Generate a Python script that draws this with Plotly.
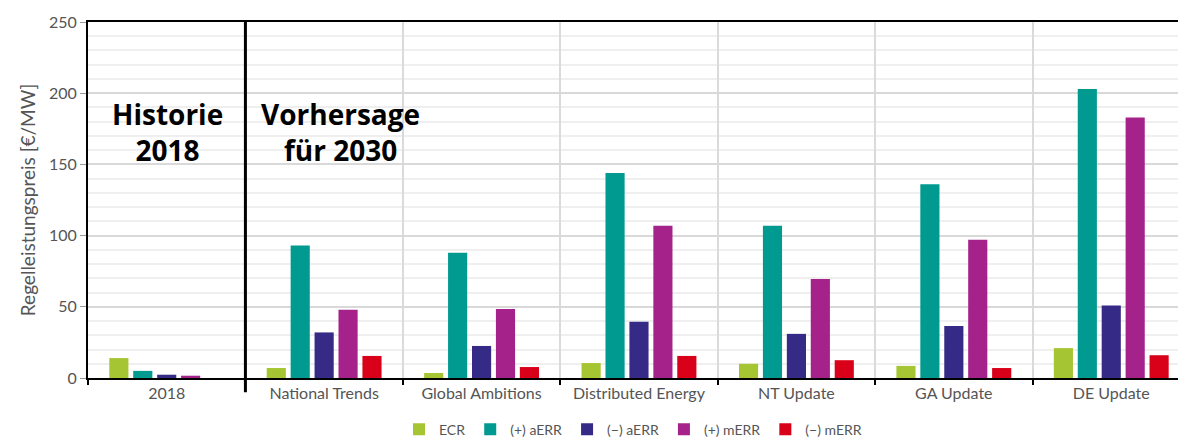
import plotly.graph_objects as go

# Szenarien (Kategorien der x-Achse)
categories = ["2018", "National Trends", "Global Ambitions", "Distributed Energy",
              "NT Update", "GA Update", "DE Update"]

# Regelleistungspreise in €/MW je Produkt
ecr = [14, 7, 3.5, 10.5, 10, 8.5, 21]
afrr_pos = [5, 93, 88, 144, 107, 136, 203]
afrr_neg = [2.3, 32, 22.5, 39.5, 31, 36.5, 51]
mfrr_pos = [1.6, 48, 48.5, 107, 69.5, 97, 183]
mfrr_neg = [0, 15.5, 7.7, 15.5, 12.5, 7, 16]

series = [
    ("ECR", ecr, "#a5c632"),
    ("(+) aERR", afrr_pos, "#009a90"),
    ("(\u2212) aERR", afrr_neg, "#352a85"),
    ("(+) mERR", mfrr_pos, "#a4228a"),
    ("(\u2212) mERR", mfrr_neg, "#d9001a"),
]

y_ticks = [0, 50, 100, 150, 200, 250]

fig = go.Figure()
for name, vals, color in series:
    fig.add_trace(go.Bar(
        x=categories, y=vals, name=name,
        marker=dict(color=color, line=dict(width=0)),
    ))

font_family = "Lato, 'Open Sans', sans-serif"

fig.update_layout(
    width=1178, height=441,
    margin=dict(l=88, r=0, t=22, b=63, autoexpand=False),
    paper_bgcolor="white", plot_bgcolor="white",
    barmode="group", bargap=0.24, bargroupgap=0.2,
    font=dict(family=font_family, color="#555555", size=15),
    showlegend=True,
    legend=dict(orientation="h", x=0.5, xanchor="center", y=-0.1, yanchor="top",
                font=dict(size=14, color="#555555"), itemwidth=30,
                traceorder="normal", bgcolor="rgba(0,0,0,0)"),
    xaxis=dict(
        type="category", range=[-0.5, 6.424], tickson="boundaries",
        showgrid=True, gridcolor="#dadada", gridwidth=2,
        showline=True, linecolor="black", linewidth=2, mirror=True,
        ticks="outside", ticklen=5, tickcolor="black", tickwidth=2,
        tickfont=dict(size=16, color="#555555"), fixedrange=True,
    ),
    yaxis=dict(
        range=[0, 250], tickvals=y_ticks, ticktext=[str(v) for v in y_ticks],
        showgrid=True, gridcolor="#d9d9d9", gridwidth=2,
        minor=dict(dtick=10, showgrid=True, gridcolor="#efefef", gridwidth=2),
        showline=True, linecolor="black", linewidth=2,
        ticks="outside", ticklen=6, tickcolor="#9a9a9a",
        tickfont=dict(size=16, color="#555555"),
        zeroline=False,
        title=dict(text="Regelleistungspreis [€/MW]", font=dict(size=19, color="#555555"),
                   standoff=8),
    ),
)

# Trennlinie zwischen Historie und Vorhersage
fig.add_shape(type="line", xref="x", yref="paper", x0=0.5, x1=0.5, y0=-0.04, y1=1,
              line=dict(color="black", width=3))

fig.add_annotation(text="<b>Historie<br>2018</b>", xref="paper", yref="y",
                   x=0.0725, y=173, xanchor="center", yanchor="middle", showarrow=False,
                   font=dict(size=28, color="black", family="'Open Sans', sans-serif"))
fig.add_annotation(text="<b>Vorhersage<br>für 2030</b>", xref="paper", yref="y",
                   x=0.232, y=173, xanchor="center", yanchor="middle", showarrow=False,
                   font=dict(size=28, color="black", family="'Open Sans', sans-serif"))

fig.write_html("out.html")
